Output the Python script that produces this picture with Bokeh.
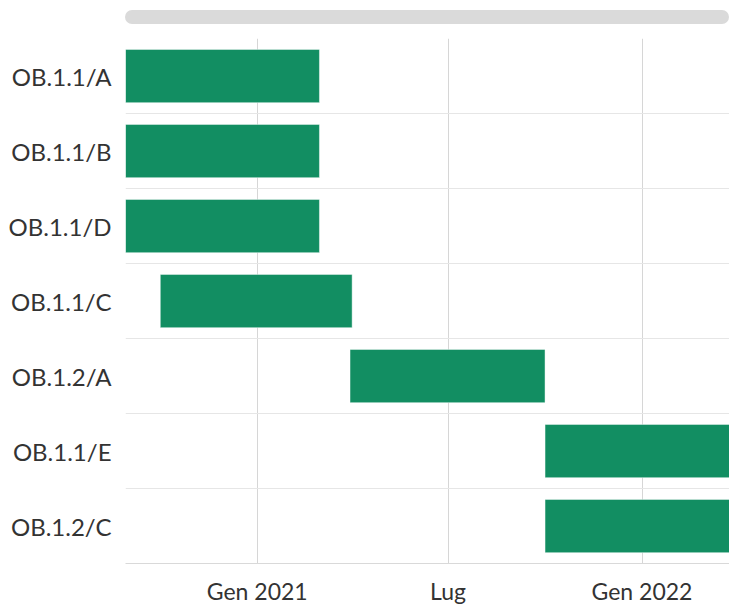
from datetime import datetime
from bokeh.plotting import figure
from bokeh.models import Range1d, FixedTicker, ColumnDataSource, Div
from bokeh.layouts import column
from bokeh.embed import file_html
from bokeh.resources import INLINE

# ---- data ----
tasks = ["OB.1.1/A", "OB.1.1/B", "OB.1.1/D", "OB.1.1/C", "OB.1.2/A", "OB.1.1/E", "OB.1.2/C"]
starts = ["2020-08-29", "2020-08-29", "2020-08-29", "2020-10-01", "2021-03-30", "2021-10-01", "2021-10-01"]
ends = ["2021-03-01", "2021-03-01", "2021-03-01", "2021-04-01", "2021-10-01", "2022-04-01", "2022-04-01"]
tick_dates = ["2021-01-01", "2021-07-01", "2022-01-01"]
tick_labels = ["Gen 2021", "Lug", "Gen 2022"]
view_start = "2020-08-29"
view_end = "2022-03-25"

def to_dt(s):
    return datetime.strptime(s, "%Y-%m-%d")

def to_ms(s):
    return (to_dt(s) - datetime(1970, 1, 1)).total_seconds() * 1000.0

rows = [i + 0.5 for i in range(len(tasks))]
src = ColumnDataSource(dict(
    y=rows,
    left=[to_dt(s) for s in starts],
    right=[to_dt(e) for e in ends],
    name=tasks,
))

FONT = "Lato"
TEXT = "#333333"

p = figure(
    width=729, height=584,
    x_axis_type="datetime",
    x_range=Range1d(to_dt(view_start), to_dt(view_end)),
    y_range=Range1d(len(tasks), 0),
    output_backend="svg", toolbar_location=None,
    min_border_left=125, min_border_right=0,
    min_border_top=14, min_border_bottom=45,
)
p.outline_line_color = None
p.background_fill_color = "white"
p.border_fill_color = "white"

p.hbar(y="y", left="left", right="right", height=0.71, source=src,
       fill_color="#128e62", line_color="#ffffff", line_alpha=0.45, line_width=1)

# x axis
xt = [to_ms(d) for d in tick_dates]
p.xaxis.ticker = FixedTicker(ticks=xt)
p.xaxis.major_label_overrides = {t: l for t, l in zip(xt, tick_labels)}
p.xaxis.major_tick_out = 0
p.xaxis.major_tick_in = 0
p.xaxis.minor_tick_out = 0
p.xaxis.minor_tick_in = 0
p.xaxis.axis_line_color = "#d9d9d9"
p.xaxis.major_label_standoff = 13
p.xaxis.major_label_text_font = FONT
p.xaxis.major_label_text_font_size = "23px"
p.xaxis.major_label_text_color = TEXT

# y axis
p.yaxis.ticker = FixedTicker(ticks=rows)
p.yaxis.major_label_overrides = {r: t for r, t in zip(rows, tasks)}
p.yaxis.major_tick_out = 0
p.yaxis.major_tick_in = 0
p.yaxis.minor_tick_out = 0
p.yaxis.minor_tick_in = 0
p.yaxis.axis_line_color = None
p.yaxis.major_label_standoff = 14
p.yaxis.major_label_text_font = FONT
p.yaxis.major_label_text_font_size = "24px"
p.yaxis.major_label_text_color = TEXT

# grids
p.xgrid.ticker = FixedTicker(ticks=xt)
p.xgrid.grid_line_color = "#d6d6d6"
p.ygrid.ticker = FixedTicker(ticks=list(range(len(tasks) + 1)))
p.ygrid.grid_line_color = "#e6e6e6"

scroll = Div(text="", width=604, height=14, margin=(10, 0, 0, 125),
             styles={"background-color": "#dadada", "border-radius": "7px"})

layout = column(scroll, p, spacing=0)

open("out.html", "w").write(file_html(layout, INLINE))
